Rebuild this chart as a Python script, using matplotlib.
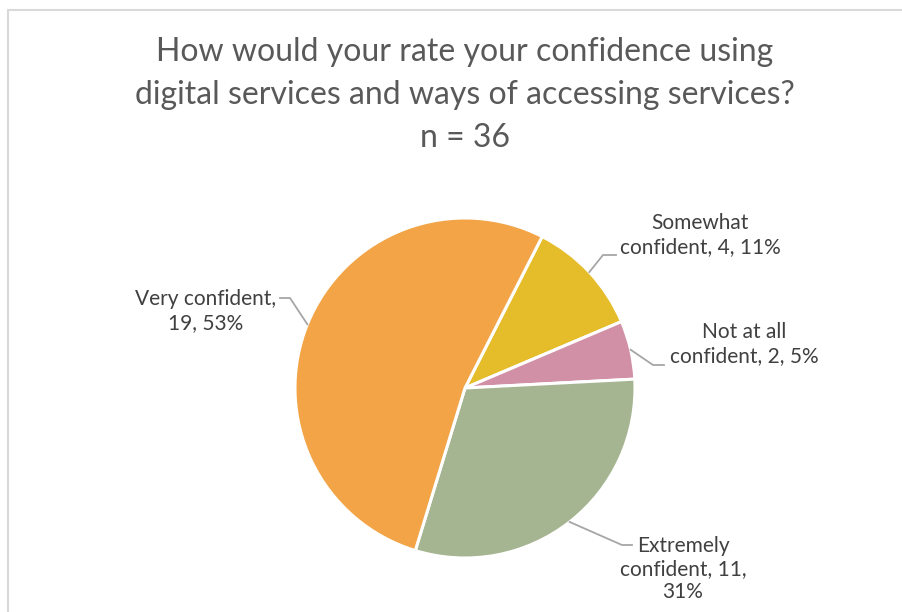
import numpy as np
import matplotlib.pyplot as plt
from matplotlib.patches import Rectangle

# survey responses
categories = ['Somewhat\nconfident', 'Not at all\nconfident', 'Extremely\nconfident', 'Very confident,']
counts = [4, 2, 11, 19]
pct_labels = ['11%', '5%', '31%', '53%']
colors = ['#E5BC2A', '#D190A6', '#A6B591', '#F2A447']

W, H = 903, 612
fig = plt.figure(figsize=(W / 100, H / 100), dpi=100)
ax = fig.add_axes([0, 0, 1, 1])

plt.rcParams['font.family'] = ['Lato', 'DejaVu Sans']

# chart area frame (cut off on right/bottom)
ax.add_patch(Rectangle((8, -20), 1000, H - 10 + 20, fill=False, ec='#d9d9d9', lw=1.5))

cx, cy, r = 465, H - 388, 170
wedges, _ = ax.pie(counts, colors=colors, startangle=63, counterclock=False,
                   center=(cx, cy), radius=r, frame=True,
                   wedgeprops=dict(edgecolor='white', linewidth=2.2))
ax.set_xlim(0, W)
ax.set_ylim(0, H)
ax.set_aspect('equal')
ax.axis('off')

title = 'How would your rate your confidence using\ndigital services and ways of accessing services?\nn = 36'
ax.text(465, H - 95, title, ha='center', va='center', fontsize=23,
        color='#595959', linespacing=1.55)

label_texts = [
    '%s, %d, %s' % (categories[0], counts[0], pct_labels[0]),
    '%s, %d, %s' % (categories[1], counts[1], pct_labels[1]),
    '%s, %d,\n%s' % (categories[2], counts[2], pct_labels[2]),
    '%s\n%d, %s' % (categories[3], counts[3], pct_labels[3]),
]
# label centres and leader elbow points (pixels, top-left origin)
label_pos = [(700, 235), (744, 344), (683, 569), (206, 311)]
elbows = [((603, 255), (616, 255)), ((653, 365), (664, 365)),
          ((622, 545), (632, 545)), ((290, 298), (280, 298))]

for w, txt, (lx, ly), (e1, e2) in zip(wedges, label_texts, label_pos, elbows):
    mid = np.deg2rad((w.theta1 + w.theta2) / 2)
    sx, sy = cx + r * np.cos(mid), cy + r * np.sin(mid)
    ax.plot([sx, e1[0], e2[0]], [sy, H - e1[1], H - e2[1]], color='#a6a6a6', lw=1.3)
    ax.text(lx, H - ly, txt, ha='center', va='center', fontsize=15,
            color='#404040', linespacing=1.2)

fig.savefig('out.png', dpi=100, facecolor='white')
